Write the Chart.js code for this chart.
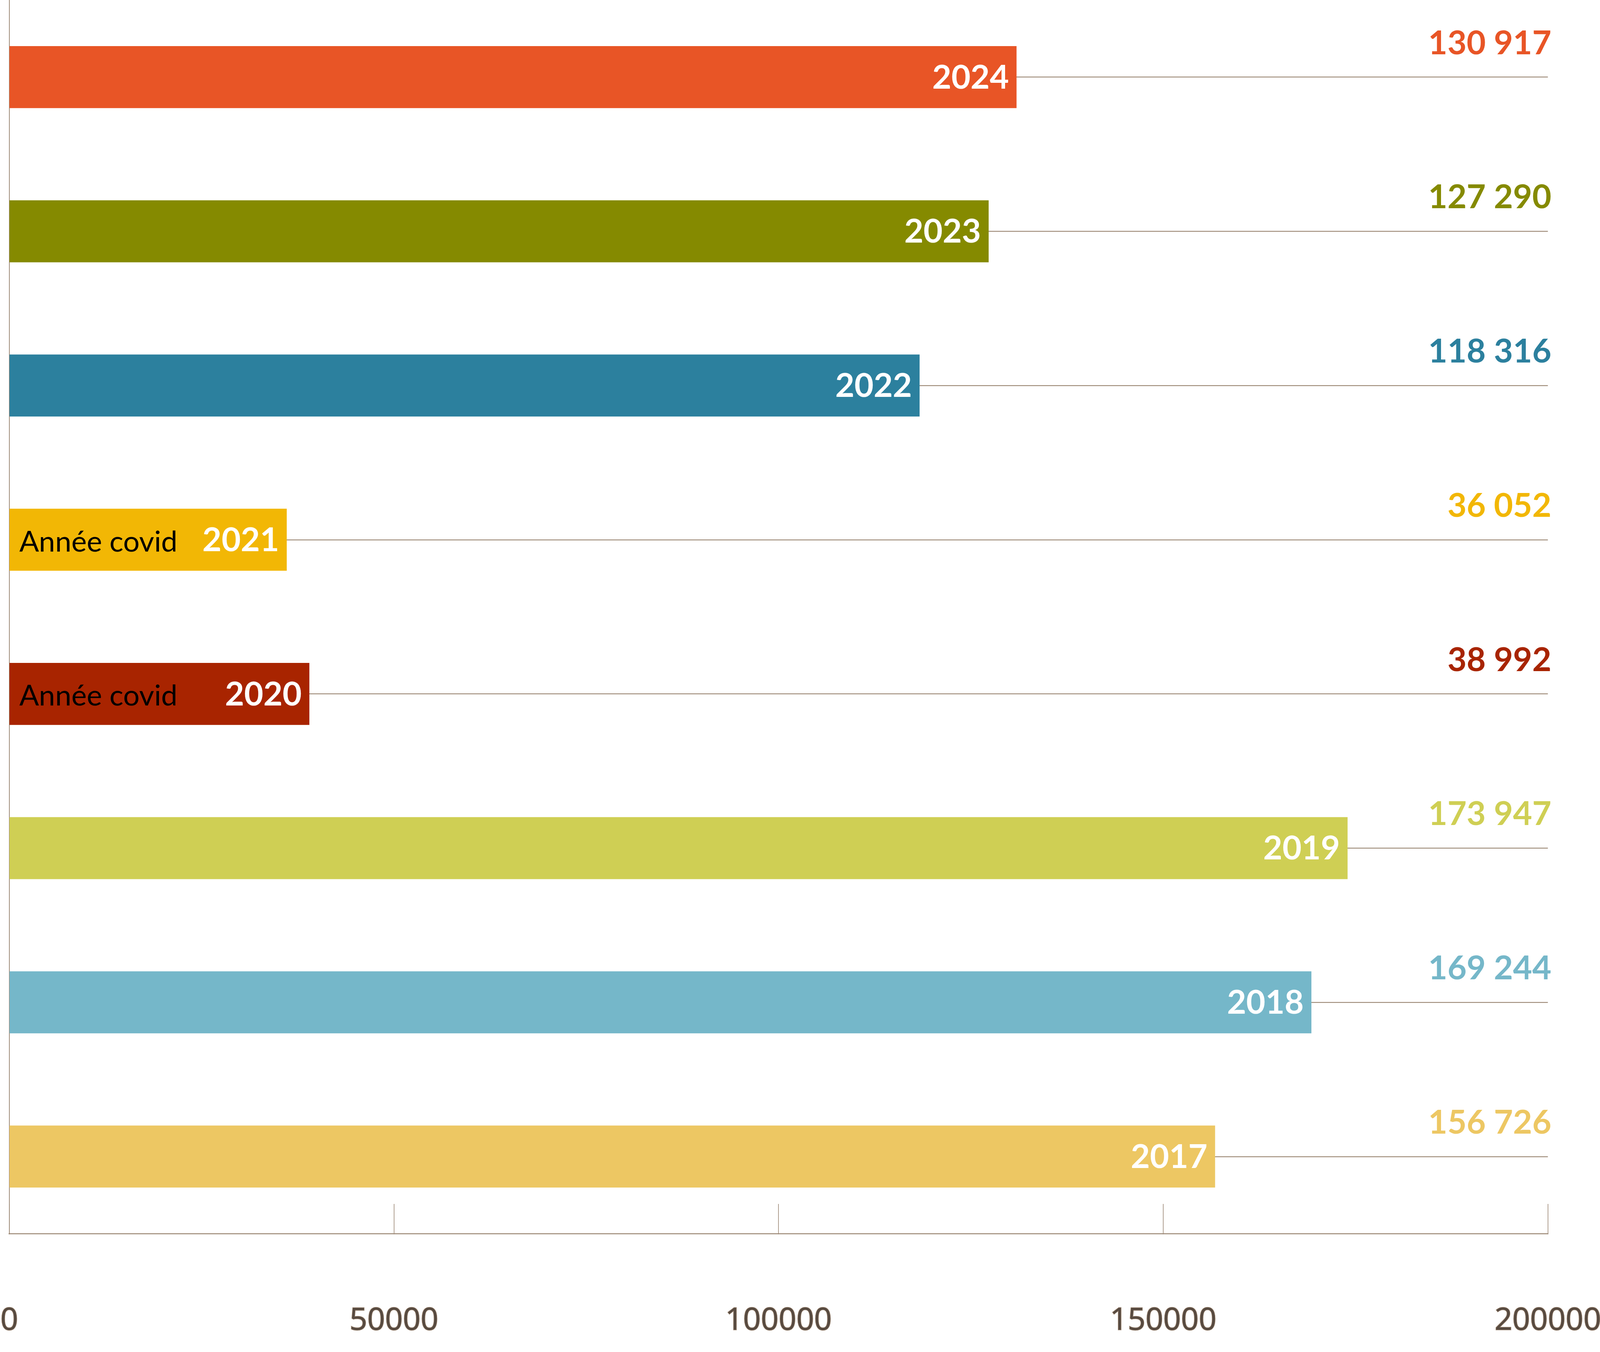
<!DOCTYPE html>
<html>
<head>
<meta charset="utf-8">
<script src="https://cdn.jsdelivr.net/npm/chart.js@4.4.1/dist/chart.umd.min.js"></script>
<style>
  html, body { margin: 0; padding: 0; background: #fff; overflow: hidden; }
  #wrap { width: 100vw; height: 100vh; position: relative; }
</style>
</head>
<body>
<div id="wrap"><canvas id="visitors"></canvas></div>
<script>
// Data (top to bottom)
const years = ['2024', '2023', '2022', '2021', '2020', '2019', '2018', '2017'];
const visitors = [130917, 127290, 118316, 36052, 38992, 173947, 169244, 156726];
const notes = ['', '', '', 'Année covid', 'Année covid', '', '', ''];
const barColors = ['#E85526', '#858A00', '#2C809E', '#F2B705', '#A82400', '#CFCF54', '#75B7C9', '#EDC763'];
const xTicks = [0, 50000, 100000, 150000, 200000];

const lineColor = '#9C8875';

// sizes below are measured on the 6385 x 3461 original,
// the window may be narrower so scale each direction
const sx = window.innerWidth / 6385;
const sy = window.innerHeight / 3461;
const px = v => v * sx;
const py = v => v * sy;

function formatNumber(v) {
  return String(v).replace(/\B(?=(\d{3})+(?!\d))/g, ' ');
}

// Labels: year inside bar, note on the left, value above the leader line
const barLabels = {
  id: 'barLabels',
  afterDatasetsDraw(chart) {
    const ctx = chart.ctx;
    const area = chart.chartArea;
    const meta = chart.getDatasetMeta(0);
    ctx.save();
    ctx.textBaseline = 'middle';
    meta.data.forEach(function(bar, i) {
      // year, white bold, right side of bar
      ctx.fillStyle = '#ffffff';
      ctx.textAlign = 'right';
      ctx.font = 'bold ' + px(132) + 'px Lato';
      ctx.fillText(years[i], bar.x - px(30), bar.y + py(2));

      // covid note
      if (notes[i]) {
        ctx.fillStyle = '#000000';
        ctx.textAlign = 'left';
        ctx.font = px(116) + 'px Lato';
        ctx.fillText(notes[i], area.left + px(40), bar.y + py(6));
      }

      // value, coloured like its bar
      ctx.fillStyle = barColors[i];
      ctx.textAlign = 'right';
      ctx.font = 'bold ' + px(132) + 'px Lato';
      ctx.fillText(formatNumber(visitors[i]), area.right + px(14), bar.y - py(86));
    });
    ctx.restore();
  }
};

const tickFontSize = px(124);

const ctx = document.getElementById('visitors').getContext('2d');
new Chart(ctx, {
  type: 'bar',
  data: {
    labels: years,
    datasets: [{
      data: visitors,
      backgroundColor: barColors,
      borderWidth: 0,
      barThickness: py(158)
    }]
  },
  options: {
    indexAxis: 'y',
    responsive: true,
    maintainAspectRatio: false,
    animation: false,
    layout: { padding: { left: px(37), right: px(208), top: 0, bottom: 0 } },
    plugins: {
      legend: { display: false },
      tooltip: { enabled: false }
    },
    scales: {
      x: {
        type: 'linear',
        min: 0,
        max: 200000,
        afterBuildTicks(scale) {
          scale.ticks = xTicks.map(v => ({ value: v }));
        },
        afterFit(scale) {
          scale.height = py(303);
          scale.paddingLeft = 0;
          scale.paddingRight = 0;
        },
        grid: {
          drawOnChartArea: false,
          drawTicks: true,
          tickLength: -py(76),
          color: lineColor,
          lineWidth: px(2.5)
        },
        border: { display: true, color: lineColor, width: px(4) },
        ticks: {
          // label centre about 223 px under the axis line
          padding: py(299) - tickFontSize * 0.6,
          maxRotation: 0,
          autoSkip: false,
          color: '#574A40',
          textStrokeColor: '#9C8672',
          textStrokeWidth: px(4),
          font: { family: 'Open Sans', size: tickFontSize },
          callback: v => String(v)
        }
      },
      y: {
        grid: {
          offset: false,
          drawTicks: false,
          color: lineColor,
          lineWidth: px(3.5)
        },
        border: { display: true, color: lineColor, width: px(3) },
        ticks: { display: false }
      }
    }
  },
  plugins: [barLabels]
});
</script>
</body>
</html>
